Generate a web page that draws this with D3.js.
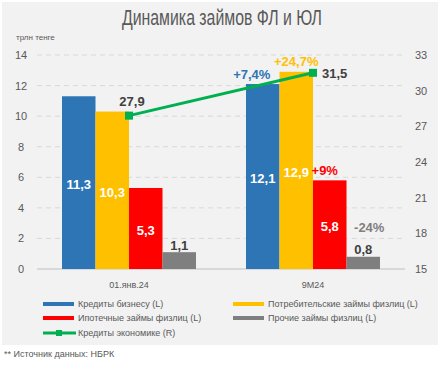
<!DOCTYPE html>
<html>
<head>
<meta charset="utf-8">
<script src="https://cdn.jsdelivr.net/npm/d3@7"></script>
<style>
  body { margin: 0; background: #fff; }
  svg { display: block; font-family: "Liberation Sans", Arial, sans-serif; }
</style>
</head>
<body>
<div id="chart"></div>
<script>
// chart data
const categories = ["01.янв.24", "9M24"];
const seriesNames = ["Кредиты бизнесу (L)", "Потребительские займы физлиц (L)", "Ипотечные займы физлиц (L)", "Прочие займы физлиц (L)"];
const business = [11.3, 12.1];
const consumer = [10.3, 12.9];
const mortgage = [5.3, 5.8];
const other = [1.1, 0.8];
const economy = [27.9, 31.5];
const growthLabels = ["+7,4%", "+24,7%", "+9%", "-24%"];
const leftTicks = [0, 2, 4, 6, 8, 10, 12, 14];
const rightTicks = [15, 18, 21, 24, 27, 30, 33];

const colors = ["#2E75B6", "#FFC000", "#FF0000", "#7F7F7F"];
const green = "#00B050";
const textGray = "#595959";

const W = 441, H = 370;
const plot = { left: 37, right: 405, top: 55, bottom: 269 };

const svg = d3.select("#chart").append("svg")
  .attr("width", W).attr("height", H);

// panel background
svg.append("rect")
  .attr("x", 2).attr("y", 2).attr("width", 436).attr("height", 343)
  .attr("fill", "#f2f2f2");

// title (squeezed to look like the condensed original font)
svg.append("text")
  .attr("x", 122).attr("y", 25)
  .attr("font-size", 22)
  .attr("fill", textGray)
  .attr("textLength", 200)
  .attr("lengthAdjust", "spacingAndGlyphs")
  .text("Динамика займов ФЛ и ЮЛ");

svg.append("text")
  .attr("x", 16).attr("y", 40)
  .attr("font-size", 8)
  .attr("fill", textGray)
  .text("трлн тенге");

// scales
const x0 = d3.scaleBand()
  .domain(categories)
  .range([plot.left, plot.right]);

const x1 = d3.scaleBand()
  .domain(d3.range(4))
  .range([0, x0.bandwidth()])
  .paddingOuter(0.5 * 50 / 33.5)
  .paddingInner(0);

const yL = d3.scaleLinear().domain([0, 14]).range([plot.bottom, plot.top]);
const yR = d3.scaleLinear().domain([15, 33]).range([plot.bottom, plot.top]);

// gridlines
svg.append("g")
  .selectAll("line")
  .data(leftTicks.filter(d => d > 0))
  .join("line")
  .attr("x1", plot.left).attr("x2", plot.right)
  .attr("y1", d => yL(d)).attr("y2", d => yL(d))
  .attr("stroke", "#d9d9d9")
  .attr("stroke-dasharray", "5,4");

// left axis
const leftAxis = svg.append("g")
  .attr("transform", `translate(${plot.left},0)`)
  .call(d3.axisLeft(yL).tickValues(leftTicks).tickSize(0));
leftAxis.select(".domain").remove();
leftAxis.selectAll("text").attr("font-size", 11).attr("fill", textGray)
  .attr("font-family", "inherit").attr("text-anchor", "middle").attr("x", -16);

// right axis
const rightAxis = svg.append("g")
  .attr("transform", `translate(${plot.right},0)`)
  .call(d3.axisRight(yR).tickValues(rightTicks).tickSize(0));
rightAxis.select(".domain").remove();
rightAxis.selectAll("text").attr("font-size", 11).attr("fill", textGray)
  .attr("font-family", "inherit").attr("text-anchor", "middle").attr("x", 16);

// baseline
svg.append("line")
  .attr("x1", plot.left).attr("x2", plot.right)
  .attr("y1", plot.bottom).attr("y2", plot.bottom)
  .attr("stroke", "#bfbfbf");

// category axis labels
svg.append("g")
  .selectAll("text")
  .data(categories)
  .join("text")
  .attr("x", d => x0(d) + x0.bandwidth() / 2)
  .attr("y", 288)
  .attr("text-anchor", "middle")
  .attr("font-size", 9)
  .attr("fill", textGray)
  .text(d => d);

// bars
const series = [business, consumer, mortgage, other];
const barData = [];
categories.forEach((c, ci) => {
  series.forEach((s, si) => barData.push({ cat: c, ci: ci, si: si, value: s[ci] }));
});

const barX = d => x0(d.cat) + x1(d.si);

svg.append("g")
  .selectAll("rect")
  .data(barData)
  .join("rect")
  .attr("x", barX)
  .attr("y", d => yL(d.value))
  .attr("width", x1.bandwidth())
  .attr("height", d => plot.bottom - yL(d.value))
  .attr("fill", d => colors[d.si]);

const fmt = v => d3.format(".1f")(v).replace(".", ",");

// value labels
svg.append("g")
  .selectAll("text")
  .data(barData)
  .join("text")
  .attr("x", d => barX(d) + x1.bandwidth() / 2)
  .attr("y", d => d.si === 3 ? yL(d.value) - 7 : (yL(d.value) + plot.bottom) / 2 + 2)
  .attr("dy", "0.35em")
  .attr("text-anchor", "middle")
  .attr("font-size", 13)
  .attr("font-weight", "bold")
  .attr("fill", d => d.si === 3 ? "#404040" : "#fff")
  .text(d => fmt(d.value));

// growth labels on second group
const growthDx = [-11, 0, -5, 6];
svg.append("g")
  .selectAll("text")
  .data(barData.filter(d => d.ci === 1))
  .join("text")
  .attr("x", d => barX(d) + x1.bandwidth() / 2 + growthDx[d.si])
  .attr("y", d => d.si === 3 ? yL(d.value) - 29 : yL(d.value) - 10)
  .attr("dy", "0.35em")
  .attr("text-anchor", "middle")
  .attr("font-size", 13)
  .attr("font-weight", "bold")
  .attr("fill", d => d.si === 3 ? "#7F7F7F" : colors[d.si])
  .text(d => growthLabels[d.si]);

// economy line (right axis)
const lineData = categories.map((c, i) => ({ cat: c, value: economy[i] }));
const lx = d => x0(d.cat) + x0.bandwidth() / 2;

svg.append("path")
  .datum(lineData)
  .attr("fill", "none")
  .attr("stroke", green)
  .attr("stroke-width", 3)
  .attr("d", d3.line().x(lx).y(d => yR(d.value)));

svg.append("g")
  .selectAll("rect")
  .data(lineData)
  .join("rect")
  .attr("x", d => lx(d) - 4)
  .attr("y", d => yR(d.value) - 4)
  .attr("width", 8).attr("height", 8)
  .attr("fill", green);

svg.append("g")
  .selectAll("text")
  .data(lineData)
  .join("text")
  .attr("x", (d, i) => i === 0 ? lx(d) + 3 : lx(d) + 9)
  .attr("y", (d, i) => i === 0 ? yR(d.value) - 14 : yR(d.value) + 1)
  .attr("dy", "0.35em")
  .attr("text-anchor", (d, i) => i === 0 ? "middle" : "start")
  .attr("font-size", 13)
  .attr("font-weight", "bold")
  .attr("fill", "#404040")
  .text(d => fmt(d.value));

// legend
const legendItems = [
  { name: seriesNames[0], color: colors[0], col: 0, row: 0 },
  { name: seriesNames[1], color: colors[1], col: 1, row: 0 },
  { name: seriesNames[2], color: colors[2], col: 0, row: 1 },
  { name: seriesNames[3], color: colors[3], col: 1, row: 1 }
];
const legX = [43, 233], legY = [304, 318, 333];

const leg = svg.append("g");
leg.selectAll("rect.sw")
  .data(legendItems)
  .join("rect")
  .attr("class", "sw")
  .attr("x", d => legX[d.col])
  .attr("y", d => legY[d.row] - 2)
  .attr("width", 31).attr("height", 4)
  .attr("fill", d => d.color);

leg.selectAll("text.lt")
  .data(legendItems)
  .join("text")
  .attr("class", "lt")
  .attr("x", d => legX[d.col] + 35)
  .attr("y", d => legY[d.row])
  .attr("dy", "0.35em")
  .attr("font-size", 9)
  .attr("fill", textGray)
  .text(d => d.name);

leg.append("line")
  .attr("x1", legX[0]).attr("x2", legX[0] + 33)
  .attr("y1", legY[2]).attr("y2", legY[2])
  .attr("stroke", green).attr("stroke-width", 3);
leg.append("rect")
  .attr("x", legX[0] + 13).attr("y", legY[2] - 3)
  .attr("width", 6).attr("height", 6)
  .attr("fill", green);
leg.append("text")
  .attr("x", legX[0] + 35).attr("y", legY[2])
  .attr("dy", "0.35em")
  .attr("font-size", 9)
  .attr("fill", textGray)
  .text("Кредиты экономике (R)");

// source note
svg.append("text")
  .attr("x", 4).attr("y", 357)
  .attr("font-size", 9)
  .attr("fill", textGray)
  .text("** Источник данных: НБРК");
</script>
</body>
</html>
